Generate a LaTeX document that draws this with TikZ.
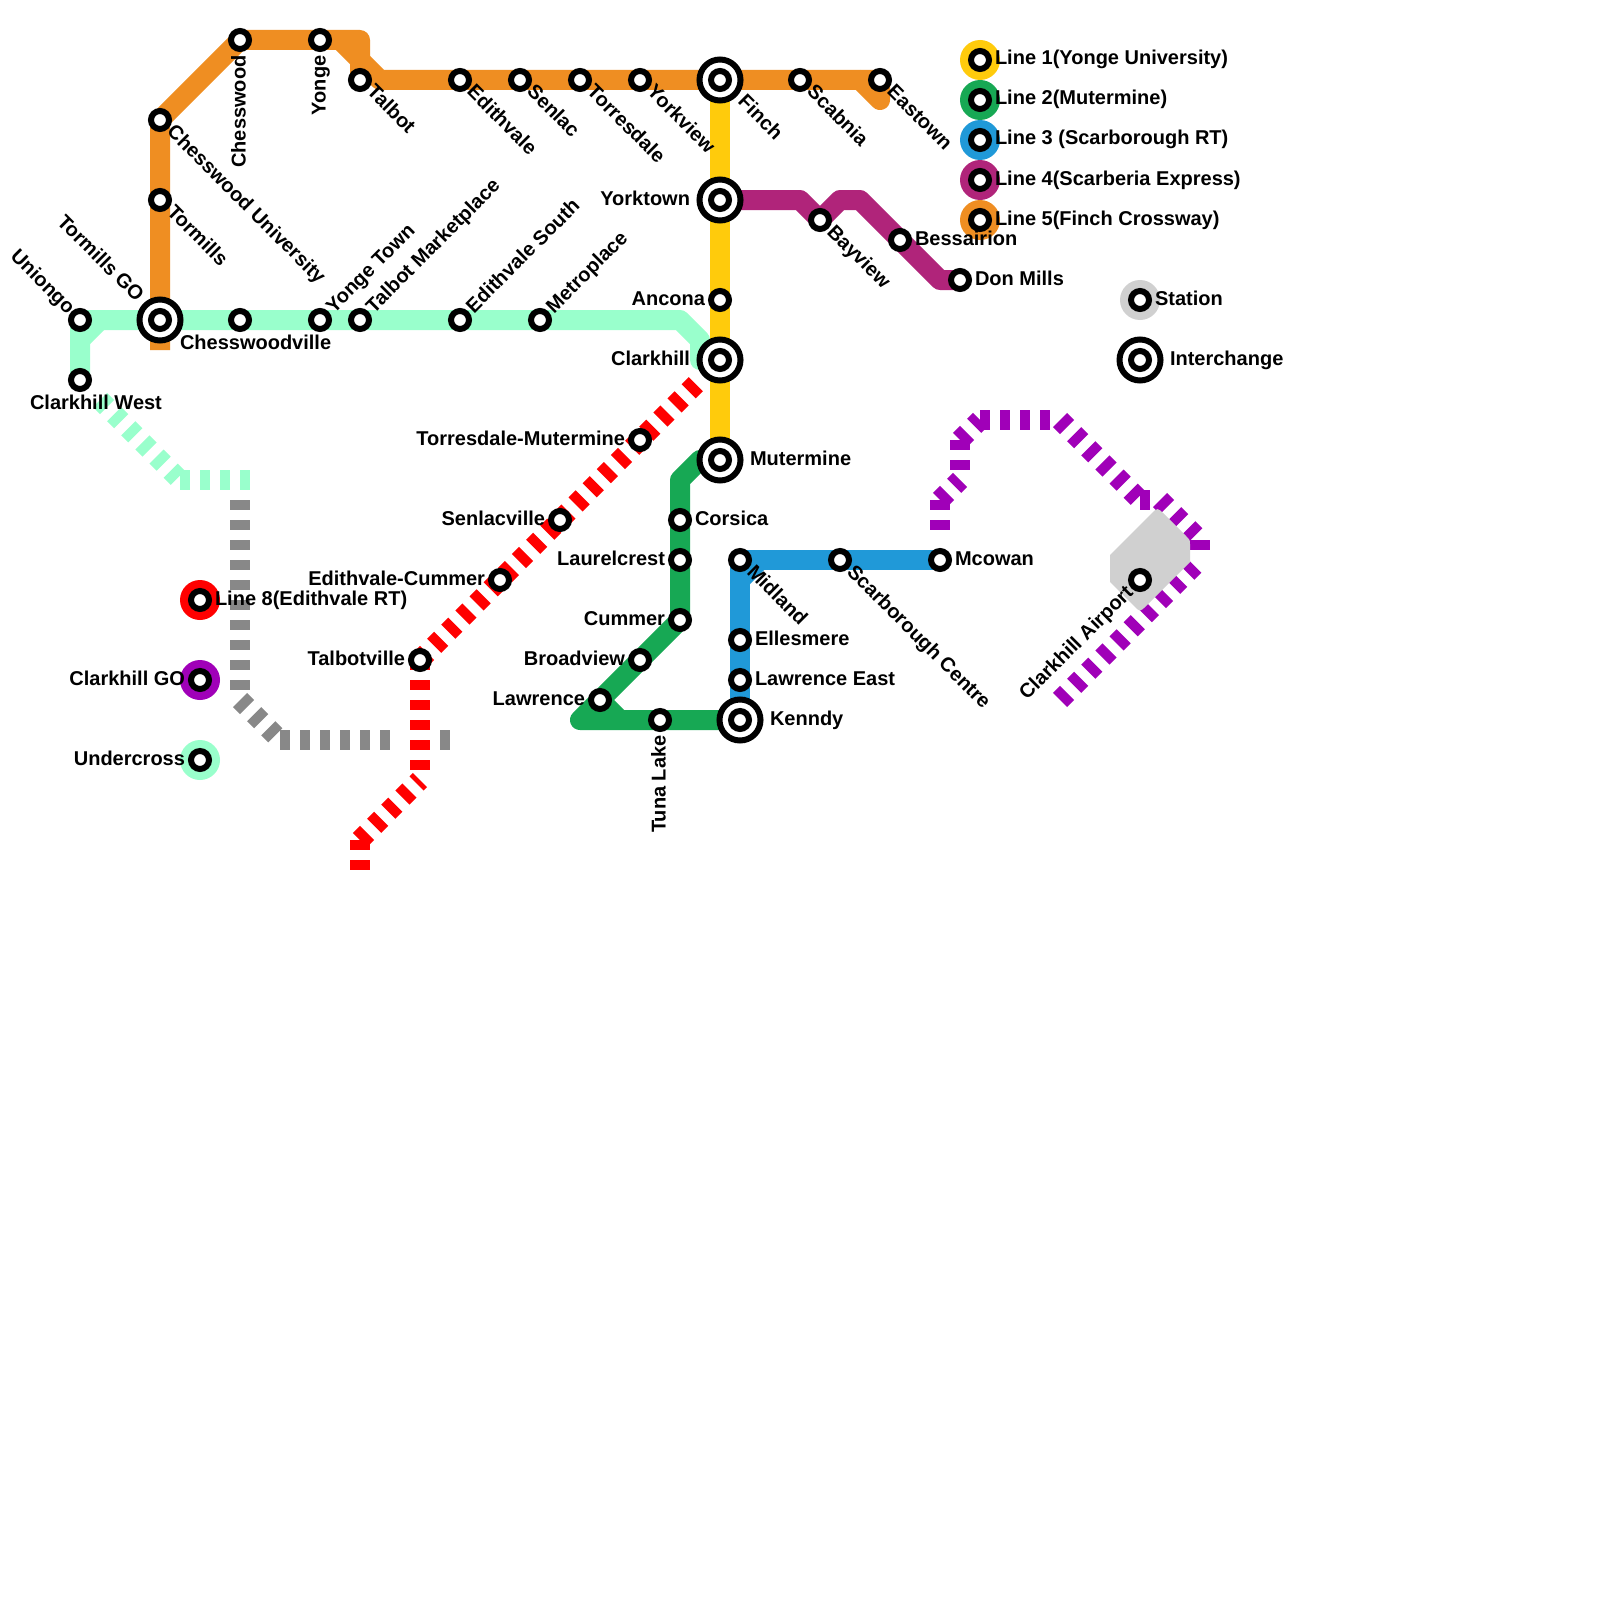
\documentclass[tikz,border=0pt]{standalone}
\usepackage{fontspec}
\setmainfont{Liberation Sans}
\definecolor{cyellow}{HTML}{FFCB0C}
\definecolor{cgreen}{HTML}{17A854}
\definecolor{cblue}{HTML}{2099D8}
\definecolor{cmagenta}{HTML}{B0247A}
\definecolor{corange}{HTML}{EF8E22}
\definecolor{cmint}{HTML}{99FFCC}
\definecolor{cred}{HTML}{FF0000}
\definecolor{cpurple}{HTML}{A000B8}
\definecolor{cgrey}{HTML}{888888}
\definecolor{clight}{HTML}{D0D0D0}
\tikzset{
  route/.style={line width=20pt,line join=round,#1},
  broken/.style={line width=20pt,dash pattern=on 10pt off 10pt,#1},
  ring/.style={circle,draw=black,line width=6pt,fill=white,inner sep=0pt,outer sep=0pt,minimum size=18pt},
  bigring/.style={circle,draw=black,line width=6pt,fill=white,inner sep=0pt,outer sep=0pt,minimum size=41pt},
  disc/.style={circle,fill=#1,inner sep=0pt,outer sep=0pt,minimum size=40pt},
  lab/.style={inner sep=0pt,outer sep=0pt,font=\fontsize{20}{24}\selectfont\bfseries,text=black},
}
% #1 name, #2 x, #3 y
\newcommand{\pnt}[3]{\coordinate (#1) at (#2,#3);}
\newcommand{\stn}[1]{\node[ring] (s#1) at (#1) {};}
\newcommand{\ichg}[1]{\node[bigring] (o#1) at (#1) {};\node[ring] (s#1) at (#1) {};}
% #1 coordinate, #2 anchor, #3 rotation, #4 dx, #5 dy, #6 text
\newcommand{\lbl}[6]{\node[lab,anchor=#2,rotate=#3] (l#1) at ([shift={(#4,#5)}]#1) {#6};}
\newcommand{\rlab}[2]{\lbl{#1}{base west}{0}{15}{5}{#2}}
\newcommand{\llab}[2]{\lbl{#1}{base east}{0}{-15}{5}{#2}}
\newcommand{\dnr}[2]{\lbl{#1}{base west}{-45}{6}{13}{#2}}
\newcommand{\upr}[2]{\lbl{#1}{base west}{45}{14}{-6}{#2}}
\newcommand{\vup}[2]{\lbl{#1}{base east}{90}{5.5}{15.5}{#2}}
\begin{document}
\begin{tikzpicture}[x=1pt,y=-1pt]
\useasboundingbox (0,0) rectangle (1600,1600);
\fill[white] (0,0) rectangle (1600,1600);
% stations
\pnt{ChesswoodU}{160}{120}\pnt{Tormills}{160}{200}\pnt{Chesswood}{240}{40}\pnt{Yonge}{320}{40}
\pnt{Talbot}{360}{80}\pnt{Edithvale}{460}{80}\pnt{Senlac}{520}{80}\pnt{Torresdale}{580}{80}
\pnt{Yorkview}{640}{80}\pnt{Finch}{720}{80}\pnt{Scabnia}{800}{80}\pnt{Eastown}{880}{80}
\pnt{Yorktown}{720}{200}\pnt{Ancona}{720}{300}\pnt{Clarkhill}{720}{360}\pnt{Mutermine}{720}{460}
\pnt{Bayview}{820}{220}\pnt{Bessairion}{900}{240}\pnt{DonMills}{960}{280}
\pnt{Uniongo}{80}{320}\pnt{ClarkhillW}{80}{380}\pnt{TormillsGO}{160}{320}\pnt{Chesswoodville}{240}{320}
\pnt{YongeTown}{320}{320}\pnt{TalbotM}{360}{320}\pnt{EdithvaleS}{460}{320}\pnt{Metroplace}{540}{320}
\pnt{TorresdaleM}{640}{440}\pnt{Senlacville}{560}{520}\pnt{EdithvaleC}{500}{580}\pnt{Talbotville}{420}{660}
\pnt{Corsica}{680}{520}\pnt{Laurelcrest}{680}{560}\pnt{Cummer}{680}{620}\pnt{Broadview}{640}{660}
\pnt{Lawrence}{600}{700}\pnt{TunaLake}{660}{720}\pnt{Kenndy}{740}{720}
\pnt{Midland}{740}{560}\pnt{ScarboroughC}{840}{560}\pnt{Mcowan}{940}{560}\pnt{Ellesmere}{740}{640}\pnt{LawrenceE}{740}{680}
\pnt{Airport}{1140}{580}
\pnt{KeyA}{980}{60}\pnt{KeyB}{980}{100}\pnt{KeyC}{980}{140}\pnt{KeyD}{980}{180}\pnt{KeyE}{980}{220}
\pnt{KeyH}{200}{600}\pnt{KeyG}{200}{680}\pnt{KeyU}{200}{760}\pnt{KeyS}{1140}{300}\pnt{KeyI}{1140}{360}
% bends
\pnt{oA}{160}{350}\pnt{oB}{360}{40}\pnt{oC}{340}{40}\pnt{oD}{380}{80}\pnt{oE}{860}{80}\pnt{oF}{880}{100}
\pnt{mA}{100}{320}\pnt{mB}{80}{340}\pnt{mC}{680}{320}\pnt{mD}{700}{340}\pnt{mE}{700}{360}
\pnt{cA}{800}{200}\pnt{cB}{840}{200}\pnt{cC}{860}{200}\pnt{cD}{940}{280}
\pnt{gA}{700}{460}\pnt{gB}{680}{480}\pnt{gC}{580}{720}\pnt{gD}{620}{720}
\pnt{bA}{740}{580}\pnt{bB}{760}{560}
\pnt{mdA}{100}{400}\pnt{mdB}{180}{480}\pnt{mdC}{250}{480}
\pnt{gyA}{240}{500}\pnt{gyB}{240}{700}\pnt{gyC}{280}{740}\pnt{gyD}{390}{740}\pnt{gyE}{440}{740}\pnt{gyF}{450}{740}
\pnt{rA}{700}{380}\pnt{rB}{420}{780}\pnt{rC}{360}{840}\pnt{rD}{360}{880}
\pnt{pA}{940}{540}\pnt{pB}{940}{500}\pnt{pC}{960}{480}\pnt{pD}{960}{440}\pnt{pE}{980}{420}\pnt{pF}{1050}{420}
\pnt{pG}{1060}{420}\pnt{pH}{1140}{500}\pnt{pI}{1160}{500}\pnt{pJ}{1200}{540}\pnt{pK}{1200}{560}\pnt{pL}{1060}{700}
% dashed lines
\draw[broken=cmint] (mdA)--(mdB);
\draw[broken=cmint] (mdB)--(mdC);
\draw[broken=cgrey] (gyA)--(gyB);
\draw[broken=cgrey] (gyB)--(gyC);
\draw[broken=cgrey] (gyC)--(gyD);
\draw[broken=cgrey] (gyE)--(gyF);
\draw[broken=cred] (Talbotville)--(rA);
\draw[broken=cred] (Talbotville)--(rB);
\draw[broken=cred] (rC)--(rB);
\draw[broken=cred] (rC)--(rD);
\draw[broken=cpurple] (pB)--(pA);
\draw[broken=cpurple] (pB)--(pC);
\draw[broken=cpurple] (pD)--(pC);
\draw[broken=cpurple] (pD)--(pE);
\draw[broken=cpurple] (pE)--(pF);
\draw[broken=cpurple] (pG)--(pH);
\draw[broken=cpurple] (pH)--(pI);
\draw[broken=cpurple] (pI)--(pJ);
\draw[broken=cpurple] (pJ)--(pK);
\draw[broken=cpurple] (pL)--(pK);
% airport
\fill[clight] (1110,555)--(1151,514) .. controls (1157.5,507.5) .. (1164,514)--(1186,536) .. controls (1190,540) .. (1190,545)--(1190,562)--(1146,606) .. controls (1140,612) .. (1134,606)--(1110,582)--cycle;
% solid lines
\draw[route=cmint] (ClarkhillW)--(Uniongo)--(mC)--(mD)--(mE)--(Clarkhill);
\draw[route=cmint] (mB)--(mA);
\draw[route=corange] (oA)--(ChesswoodU)--(Chesswood)--(oB)--(Talbot);
\draw[route=corange] (oC)--(oD)--(Eastown);
\draw[route=corange,line cap=round] (oE)--(oF)--(Eastown);
\draw[route=cyellow] (Finch)--(Mutermine);
\draw[route=cmagenta] (Yorktown)--(cA)--(Bayview)--(cB)--(cC)--(cD)--(DonMills);
\draw[route=cgreen] (Mutermine)--(gA)--(gB)--(Cummer)--(gC)--(Kenndy);
\draw[route=cgreen] (Lawrence)--(gD);
\draw[route=cblue] (Kenndy)--(Midland)--(Mcowan);
\draw[route=cblue] (bA)--(bB);
% key discs
\node[disc=cyellow] (dA) at (KeyA) {};
\node[disc=cgreen] (dB) at (KeyB) {};
\node[disc=cblue] (dC) at (KeyC) {};
\node[disc=cmagenta] (dD) at (KeyD) {};
\node[disc=corange] (dE) at (KeyE) {};
\node[disc=cred] (dH) at (KeyH) {};
\node[disc=cpurple] (dG) at (KeyG) {};
\node[disc=cmint] (dU) at (KeyU) {};
\node[disc=clight] (dS) at (KeyS) {};
% station marks
\foreach \n in {ChesswoodU,Tormills,Chesswood,Yonge,Talbot,Edithvale,Senlac,Torresdale,Yorkview,Scabnia,Eastown,Ancona,Bayview,Bessairion,DonMills,Uniongo,ClarkhillW,Chesswoodville,YongeTown,TalbotM,EdithvaleS,Metroplace,TorresdaleM,Senlacville,EdithvaleC,Talbotville,Corsica,Laurelcrest,Cummer,Broadview,Lawrence,TunaLake,Midland,ScarboroughC,Mcowan,Ellesmere,LawrenceE,Airport,KeyA,KeyB,KeyC,KeyD,KeyE,KeyH,KeyG,KeyU,KeyS}{\stn{\n}}
\foreach \n in {Finch,Yorktown,Clarkhill,Mutermine,TormillsGO,Kenndy,KeyI}{\ichg{\n}}
% labels
\dnr{ChesswoodU}{Chesswood University}
\dnr{Tormills}{Tormills}
\vup{Chesswood}{Chesswood}
\vup{Yonge}{Yonge}
\dnr{Talbot}{Talbot}
\dnr{Edithvale}{Edithvale}
\dnr{Senlac}{Senlac}
\dnr{Torresdale}{Torresdale}
\dnr{Yorkview}{Yorkview}
\lbl{Finch}{base west}{-45}{17}{23}{Finch}
\dnr{Scabnia}{Scabnia}
\dnr{Eastown}{Eastown}
\lbl{Yorktown}{base east}{0}{-30}{5}{Yorktown}
\llab{Ancona}{Ancona}
\lbl{Clarkhill}{base east}{0}{-30}{5}{Clarkhill}
\lbl{Mutermine}{base west}{0}{30}{5}{Mutermine}
\dnr{Bayview}{Bayview}
\rlab{Bessairion}{Bessairion}
\rlab{DonMills}{Don Mills}
\lbl{Uniongo}{base east}{-45}{-13}{-5}{Uniongo}
\lbl{TormillsGO}{base east}{-45}{-24}{-17}{Tormills GO}
\lbl{ClarkhillW}{base west}{0}{-50}{29}{Clarkhill West}
\lbl{Chesswoodville}{base west}{0}{-60}{29}{Chesswoodville}
\upr{YongeTown}{Yonge Town}
\upr{TalbotM}{Talbot Marketplace}
\upr{EdithvaleS}{Edithvale South}
\upr{Metroplace}{Metroplace}
\llab{TorresdaleM}{Torresdale-Mutermine}
\llab{Senlacville}{Senlacville}
\llab{EdithvaleC}{Edithvale-Cummer}
\llab{Talbotville}{Talbotville}
\rlab{Corsica}{Corsica}
\llab{Laurelcrest}{Laurelcrest}
\llab{Cummer}{Cummer}
\llab{Broadview}{Broadview}
\llab{Lawrence}{Lawrence}
\vup{TunaLake}{Tuna Lake}
\lbl{Kenndy}{base west}{0}{30}{5}{Kenndy}
\dnr{Midland}{Midland}
\dnr{ScarboroughC}{Scarborough Centre}
\rlab{Mcowan}{Mcowan}
\rlab{Ellesmere}{Ellesmere}
\rlab{LawrenceE}{Lawrence East}
\lbl{Airport}{base east}{45}{-6}{14}{Clarkhill Airport}
\rlab{KeyA}{Line 1(Yonge University)}
\rlab{KeyB}{Line 2(Mutermine)}
\rlab{KeyC}{Line 3 (Scarborough RT)}
\rlab{KeyD}{Line 4(Scarberia Express)}
\rlab{KeyE}{Line 5(Finch Crossway)}
\rlab{KeyH}{Line 8(Edithvale RT)}
\llab{KeyG}{Clarkhill GO}
\llab{KeyU}{Undercross}
\rlab{KeyS}{Station}
\lbl{KeyI}{base west}{0}{30}{5}{Interchange}
\end{tikzpicture}
\end{document}
